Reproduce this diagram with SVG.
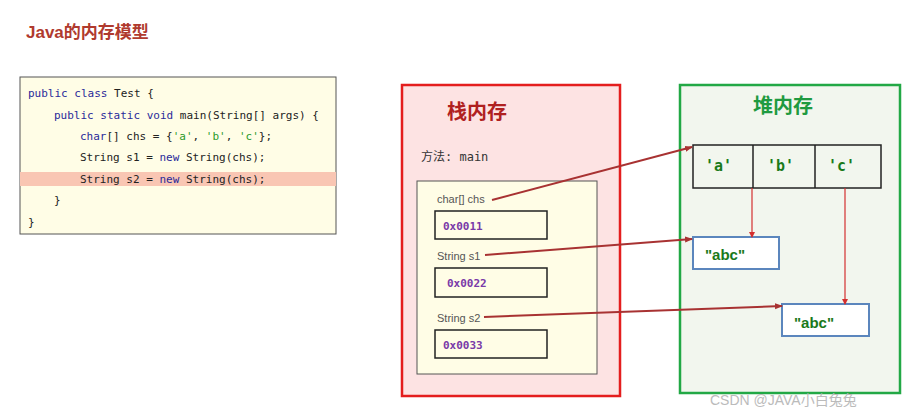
<svg xmlns="http://www.w3.org/2000/svg" width="917" height="418" viewBox="0 0 917 418">
<style>
.code{font-family:"DejaVu Sans Mono",monospace;font-size:11px;fill:#222}
.kw{fill:#2a2a9a}.str{fill:#2a9a2a}
.lbl{font-family:"Liberation Sans","Noto Sans CJK SC",sans-serif;font-size:11px;fill:#555}
.addr{font-family:"DejaVu Sans Mono",monospace;font-size:11px;font-weight:bold;fill:#7a3aa8}
.ch{font-family:"DejaVu Sans Mono",monospace;font-size:15px;font-weight:bold;fill:#1a7a1a}
.abc{font-family:"Liberation Sans",sans-serif;font-size:15px;font-weight:bold;fill:#1a7a1a}
.abox{fill:#fff;stroke:#5b86bd;stroke-width:2}
.vbox{fill:none;stroke:#222;stroke-width:1.5}
</style>
<defs>
<marker id="ah" markerWidth="8" markerHeight="8" refX="7" refY="4" orient="auto" markerUnits="userSpaceOnUse"><path d="M0,1 L8,4 L0,7 z" fill="#a83232"/></marker>
<marker id="ah2" markerWidth="6" markerHeight="6" refX="5" refY="3" orient="auto" markerUnits="userSpaceOnUse"><path d="M0,0 L6,3 L0,6 z" fill="#d32f2f"/></marker>
</defs>
<rect width="917" height="418" fill="#fff"/>
<text x="26" y="38" font-family="Liberation Sans,Noto Sans CJK SC,sans-serif" font-size="17" font-weight="bold" fill="#b03a2e">Java的内存模型</text>
<g id="code">
<rect x="20" y="77" width="316" height="157" fill="#fffde6" stroke="#555" stroke-width="1"/>
<rect x="20" y="172" width="316" height="14" fill="#f9c6b3"/>
<text class="code" x="28" y="97"><tspan class="kw">public class</tspan> Test {</text>
<text class="code" x="54" y="119"><tspan class="kw">public static void</tspan> main(String[] args) {</text>
<text class="code" x="80" y="140"><tspan class="kw">char</tspan>[] chs = {<tspan class="str">'a'</tspan>, <tspan class="str">'b'</tspan>, <tspan class="str">'c'</tspan>};</text>
<text class="code" x="80" y="161">String s1 = <tspan class="kw">new</tspan> String(chs);</text>
<text class="code" x="80" y="183">String s2 = <tspan class="kw">new</tspan> String(chs);</text>
<text class="code" x="54" y="204">}</text>
<text class="code" x="28" y="226">}</text>
</g>
<g id="stack">
<rect x="402" y="85" width="218" height="311" fill="#fde3e3" stroke="#e41e1e" stroke-width="2.5"/>
<text x="447" y="119" font-family="Noto Sans CJK SC,sans-serif" font-size="20" font-weight="bold" fill="#b02020">栈内存</text>
<text x="421" y="161" font-family="DejaVu Sans Mono,Noto Sans CJK SC,monospace" font-size="12" fill="#333">方法: main</text>
<rect x="417" y="181" width="180" height="193" fill="#fffde6" stroke="#555" stroke-width="1"/>
<text class="lbl" x="437" y="203">char[] chs</text>
<rect class="vbox" x="435" y="211" width="112" height="28"/>
<text class="addr" x="443" y="230">0x0011</text>
<text class="lbl" x="437" y="260">String s1</text>
<rect class="vbox" x="435" y="268" width="112" height="29"/>
<text class="addr" x="447" y="287">0x0022</text>
<text class="lbl" x="437" y="322">String s2</text>
<rect class="vbox" x="435" y="330" width="112" height="28"/>
<text class="addr" x="443" y="349">0x0033</text>
</g>
<g id="heap">
<rect x="680" y="85" width="220" height="308" fill="#f2f6ee" stroke="#22a845" stroke-width="2.5"/>
<text x="753" y="113" font-family="Noto Sans CJK SC,sans-serif" font-size="20" font-weight="bold" fill="#1f9a40">堆内存</text>
<rect class="vbox" x="693" y="145" width="188" height="43" fill="#f2f6ee"/>
<line x1="753" y1="145" x2="753" y2="188" stroke="#222" stroke-width="1.5"/>
<line x1="815" y1="145" x2="815" y2="188" stroke="#222" stroke-width="1.5"/>
<text class="ch" x="705" y="171">'a'</text>
<text class="ch" x="767" y="171">'b'</text>
<text class="ch" x="828" y="171">'c'</text>
<rect class="abox" x="693" y="237" width="86" height="32"/>
<text class="abc" x="705" y="260">"abc"</text>
<rect class="abox" x="782" y="304" width="87" height="32"/>
<text class="abc" x="794" y="328">"abc"</text>
</g>
<g id="connectors" fill="none">
<line x1="492" y1="200" x2="692" y2="147" stroke="#a83232" stroke-width="2" marker-end="url(#ah)"/>
<line x1="485" y1="255" x2="692" y2="239" stroke="#a83232" stroke-width="2" marker-end="url(#ah)"/>
<line x1="484" y1="317" x2="782" y2="306" stroke="#a83232" stroke-width="2" marker-end="url(#ah)"/>
<line x1="752" y1="188" x2="752" y2="237" stroke="#d32f2f" stroke-width="1.2" marker-end="url(#ah2)"/>
<line x1="845" y1="188" x2="845" y2="304" stroke="#d32f2f" stroke-width="1.2" marker-end="url(#ah2)"/>
</g>
<text x="710" y="405" font-family="Liberation Sans,Noto Sans CJK SC,sans-serif" font-size="14" fill="#bbb">CSDN @JAVA小白兔兔</text>
</svg>
